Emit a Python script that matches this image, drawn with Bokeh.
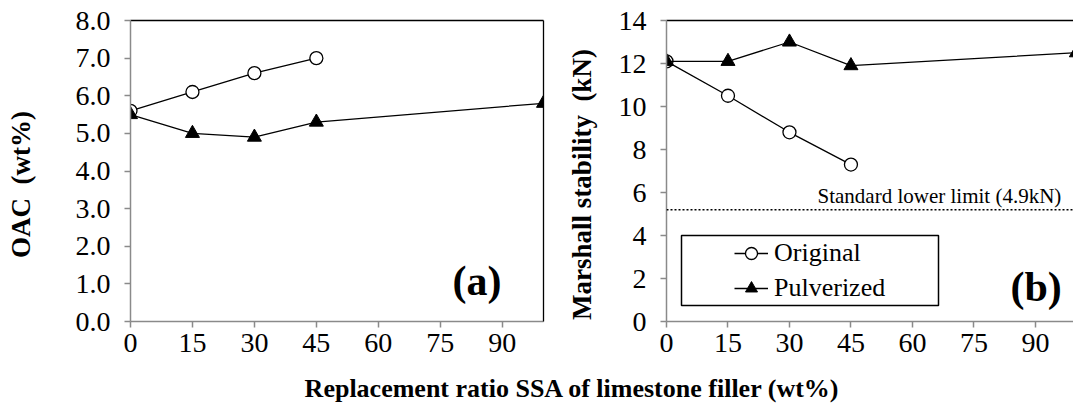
from bokeh.plotting import figure
from bokeh.models import (FixedTicker, LinearAxis, Span, Label, Legend, LegendItem,
                          BoxAnnotation, Range1d, PrintfTickFormatter)
from bokeh.layouts import column, row
from bokeh.embed import file_html
from bokeh.resources import INLINE

# ---------------- data ----------------
ratio_orig = [0, 15, 30, 45]
ratio_pulv = [0, 15, 30, 45, 100]
oac_orig = [5.6, 6.1, 6.6, 7.0]
oac_pulv = [5.5, 5.0, 4.9, 5.3, 5.8]
stab_orig = [12.1, 10.5, 8.8, 7.3]
stab_pulv = [12.1, 12.1, 13.0, 11.9, 12.5]
x_ticks = [0, 15, 30, 45, 60, 75, 90]
oac_ticks = [0, 1, 2, 3, 4, 5, 6, 7, 8]
stab_ticks = [0, 2, 4, 6, 8, 10, 12, 14]
lower_limit = 5.2
series_names = ["Original", "Pulverized"]
y_title_a = "OAC\u00a0\u00a0(wt%)"
y_title_b = "Marshall stability\u00a0\u00a0(kN)"
x_title = "Replacement ratio SSA of limestone filler (wt%)"

FONT = "Liberation Serif"
AX_GRAY = "#8a8a8a"
PAD = "\u00a0" * 4   # trailing padding nudges the rotated titles slightly downward


def border_axis():
    return LinearAxis(ticker=FixedTicker(ticks=[]), major_tick_line_color=None,
                      minor_tick_line_color=None, axis_line_color="black",
                      axis_line_width=1.3)


def style_axes(p, yticks, ylabel, ylabel_standoff):
    p.xaxis.ticker = FixedTicker(ticks=x_ticks)
    p.yaxis.ticker = FixedTicker(ticks=yticks)
    for ax in (p.xaxis[0], p.yaxis[0]):
        ax.axis_line_color = AX_GRAY
        ax.axis_line_width = 1.5
        ax.major_tick_line_color = AX_GRAY
        ax.major_tick_line_width = 1.5
        ax.major_tick_in = 0
        ax.major_tick_out = 6
        ax.minor_tick_line_color = None
        ax.major_label_text_font = FONT
        ax.major_label_text_font_size = "28px"
        ax.major_label_text_color = "black"
    p.xaxis.major_label_standoff = 6
    p.yaxis.major_label_standoff = 14
    p.yaxis.axis_label = ylabel + PAD
    p.yaxis.axis_label_standoff = ylabel_standoff
    p.yaxis.axis_label_text_font = FONT
    p.yaxis.axis_label_text_font_size = "27px"
    p.yaxis.axis_label_text_font_style = "bold"
    p.yaxis.axis_label_text_color = "black"
    p.xgrid.grid_line_color = None
    p.ygrid.grid_line_color = None
    p.outline_line_color = None
    p.add_layout(border_axis(), "above")


def draw_series(p, yo, yp):
    lo = p.line(ratio_orig, yo, line_color="black", line_width=1.3)
    so = p.scatter(ratio_orig, yo, marker="circle", size=13, fill_color="white",
                   line_color="black", line_width=1.3)
    lp = p.line(ratio_pulv, yp, line_color="black", line_width=1.3)
    sp = p.scatter(ratio_pulv, yp, marker="triangle", size=14, fill_color="black",
                   line_color="black", line_width=1)
    return (lo, so), (lp, sp)


# ---------------- panel (a) ----------------
p1 = figure(width=560, height=365, frame_width=413, frame_height=301,
            x_range=Range1d(0, 100), y_range=Range1d(0, 8),
            output_backend="svg", toolbar_location=None,
            min_border_left=130, min_border_right=17, min_border_top=20,
            min_border_bottom=44)
style_axes(p1, oac_ticks, y_title_a, 37)
p1.yaxis.formatter = PrintfTickFormatter(format="%.1f")
p1.add_layout(border_axis(), "right")
draw_series(p1, oac_orig, oac_pulv)
p1.add_layout(Label(x=322, y=41, x_units="screen", y_units="screen", text="(a)",
                    text_font=FONT, text_font_size="42px", text_font_style="bold",
                    text_color="black", text_baseline="alphabetic", text_align="left"))

# ---------------- panel (b) ----------------
p2 = figure(width=513, height=365, frame_width=407, frame_height=301,
            x_range=Range1d(0, 99.3), y_range=Range1d(0, 14),
            output_backend="svg", toolbar_location=None,
            min_border_left=106, min_border_right=0, min_border_top=20,
            min_border_bottom=44)
style_axes(p2, stab_ticks, y_title_b, 19)
(lo, so), (lp, sp) = draw_series(p2, stab_orig, stab_pulv)
p2.add_layout(Span(location=lower_limit, dimension="width", line_color="black",
                   line_width=1.5, line_dash="2 2"))
p2.add_layout(Label(x=151, y=126, x_units="screen", y_units="screen",
                    text="Standard lower limit (4.9kN)", text_font=FONT,
                    text_font_size="21px", text_color="black",
                    text_baseline="alphabetic"))
p2.add_layout(Label(x=344, y=35, x_units="screen", y_units="screen", text="(b)",
                    text_font=FONT, text_font_size="42px", text_font_style="bold",
                    text_color="black", text_baseline="alphabetic", text_align="left"))
p2.add_layout(BoxAnnotation(left=15, right=272, bottom=16, top=86,
                            left_units="screen", right_units="screen",
                            bottom_units="screen", top_units="screen",
                            fill_color="white", fill_alpha=1,
                            line_color="black", line_alpha=1, line_width=1.5))
legend = Legend(items=[LegendItem(label=series_names[0], renderers=[lo, so]),
                       LegendItem(label=series_names[1], renderers=[lp, sp])],
                location=(64, 14), padding=4, spacing=5, glyph_width=34,
                glyph_height=30, label_height=30, label_standoff=6,
                label_text_font=FONT, label_text_font_size="26px",
                label_text_color="black",
                background_fill_alpha=0, border_line_alpha=0, margin=0)
p2.add_layout(legend)

# ---------------- shared x title ----------------
pt = figure(width=1073, height=38, x_range=Range1d(0, 1), y_range=Range1d(0, 1),
            x_axis_type=None, y_axis_type=None, output_backend="svg",
            toolbar_location=None, min_border=0)
pt.outline_line_color = None
pt.grid.grid_line_color = None
pt.add_layout(Label(x=572, y=15, x_units="screen", y_units="screen", text=x_title,
                    text_font=FONT, text_font_size="26px", text_font_style="bold",
                    text_color="black", text_align="center", text_baseline="middle"))

layout = column(row(p1, p2), pt)
open("out.html", "w").write(file_html(layout, INLINE))
